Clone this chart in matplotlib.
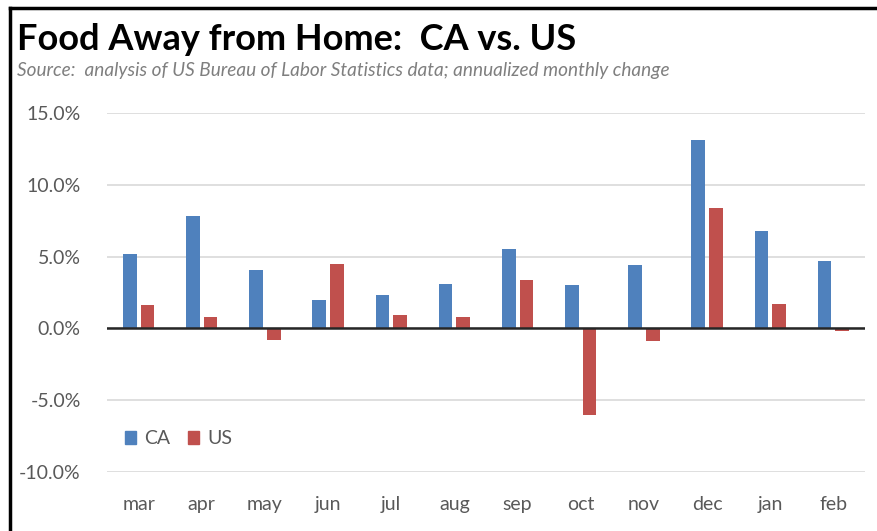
import numpy as np
import matplotlib
matplotlib.use('Agg')
import matplotlib.pyplot as plt
from matplotlib.lines import Line2D
from matplotlib.patches import Patch

# data (annualized monthly change, %)
months = ['mar', 'apr', 'may', 'jun', 'jul', 'aug', 'sep', 'oct', 'nov', 'dec', 'jan', 'feb']
ca_vals = [5.2, 7.8, 4.1, 2.0, 2.3, 3.1, 5.5, 3.0, 4.4, 13.1, 6.8, 4.7]
us_vals = [1.6, 0.8, -0.8, 4.5, 0.9, 0.8, 3.4, -6.0, -0.9, 8.4, 1.7, -0.2]
yticks = [-10, -5, 0, 5, 10, 15]

ca_color = '#4F81BD'
us_color = '#C0504D'
plt.rcParams['font.family'] = ['Lato', 'DejaVu Sans']

fig = plt.figure(figsize=(8.78, 5.31), dpi=100)
ax = fig.add_axes([0.1219, 0.1111, 0.8633, 0.6761])

x = np.arange(len(months))
w = 0.215
off = 0.14
ax.bar(x - off, ca_vals, w, color=ca_color, zorder=3, label='CA')
ax.bar(x + off, us_vals, w, color=us_color, zorder=3, label='US')

ax.set_xlim(-0.5, len(months) - 0.5)
ax.set_ylim(-10, 15)
ax.set_yticks(yticks)
ax.set_yticklabels([f'{v:.1f}%' for v in yticks])
ax.set_xticks(x)
ax.set_xticklabels(months)
ax.tick_params(axis='both', length=0, labelsize=14, colors='#595959')
ax.tick_params(axis='y', pad=19)
ax.tick_params(axis='x', pad=17)
for s in ax.spines.values():
    s.set_visible(False)
ax.yaxis.grid(True, color='#d9d9d9', linewidth=1.2, zorder=0)
ax.axhline(0, color='#262626', linewidth=1.8, zorder=4)

handles = [Patch(color=ca_color, label='CA'), Patch(color=us_color, label='US')]
ax.legend(handles=handles, loc='lower left', bbox_to_anchor=(0.0, 0.02), ncol=2,
          frameon=False, fontsize=14, handlelength=0.6, handleheight=0.6,
          handletextpad=0.4, columnspacing=0.9, labelcolor='#595959')

fig.text(0.019, 0.906, 'Food Away from Home:  CA vs. US', fontsize=26,
         fontweight='bold', color='black', va='baseline')
fig.text(0.019, 0.857, 'Source:  analysis of US Bureau of Labor Statistics data; annualized monthly change',
         fontsize=13.7, style='italic', color='#7f7f7f', va='baseline')

# frame lines (top and left)
fig.add_artist(Line2D([0.0115, 1.0], [0.985, 0.985], color='black', linewidth=2.5,
                      transform=fig.transFigure))
fig.add_artist(Line2D([0.0115, 0.0115], [0.0, 0.985], color='black', linewidth=2.5,
                      transform=fig.transFigure))

fig.savefig('out.png', dpi=100)
